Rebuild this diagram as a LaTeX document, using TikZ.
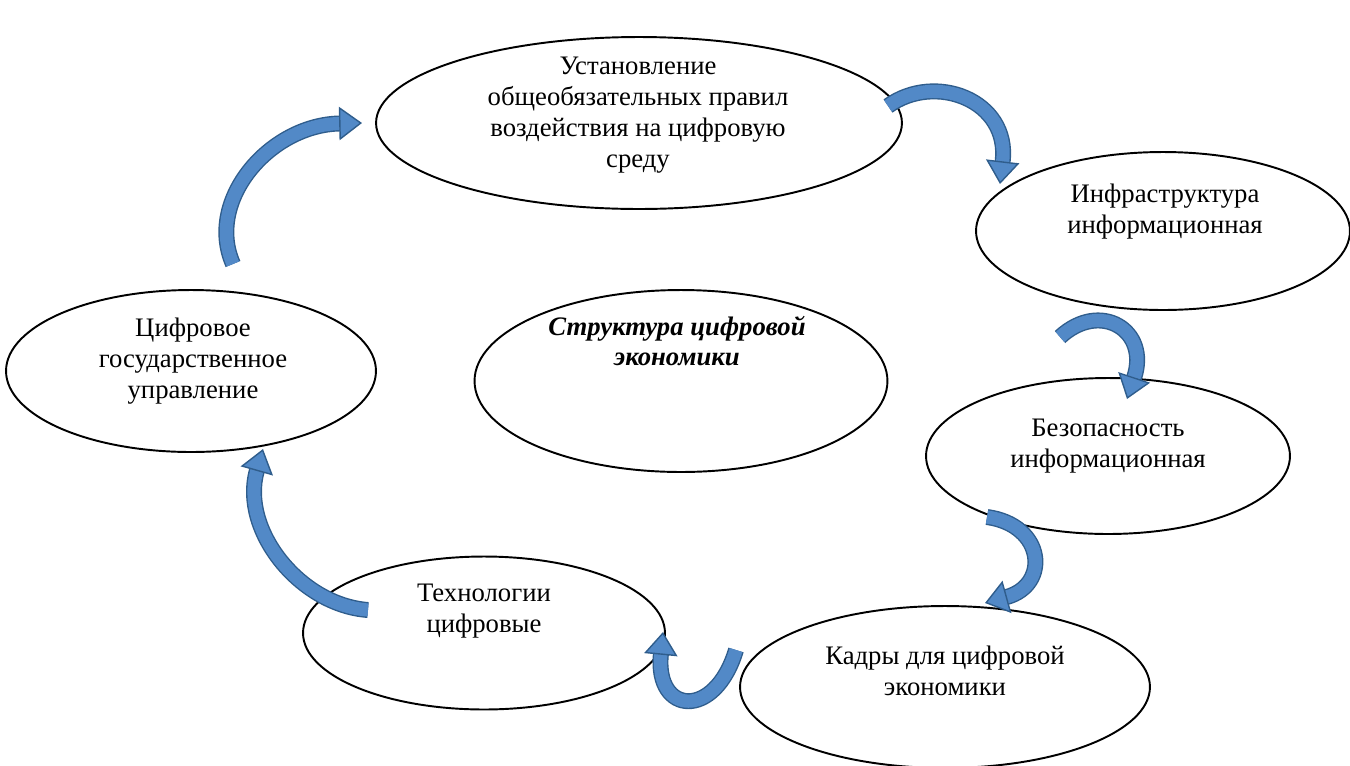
\documentclass[tikz,border=0pt]{standalone}
\usepackage{fontspec}
\setmainfont{Liberation Serif}
\usetikzlibrary{shapes.geometric, arrows.meta}
\definecolor{ribbonfill}{HTML}{5289C7}
\definecolor{ribbonline}{HTML}{2F5D8C}
\tikzset{
    bubble/.style={ellipse, draw=black, line width=1.1pt, inner sep=0pt, outer sep=0pt},
    caption/.style={align=center, font=\fontsize{15.2}{17.6}\selectfont},
    ribbon/.style={draw=ribbonline, line width=0.8pt, double=ribbonfill, double distance=7.5pt,
        -{Triangle[length=13pt, width=19pt, fill=ribbonfill, line width=0.8pt]}},
}

\begin{document}
\begin{tikzpicture}[x=0.02cm, y=-0.02cm]
    \useasboundingbox (0,0) rectangle (1350,765);
    % ellipses
    \node[bubble, minimum width=10.52cm, minimum height=3.44cm] (rules) at (639,123) {};
    \node[bubble, minimum width=7.48cm, minimum height=3.16cm] (infra) at (1163,231) {};
    \node[bubble, minimum width=7.28cm, minimum height=3.12cm] (security) at (1108,456) {};
    \node[bubble, minimum width=8.2cm, minimum height=3.24cm] (staff) at (945,687) {};
    \node[bubble, minimum width=7.24cm, minimum height=3.06cm] (tech) at (484,633) {};
    \node[bubble, minimum width=7.4cm, minimum height=3.24cm] (gov) at (191,371) {};
    \node[bubble, minimum width=8.26cm, minimum height=3.64cm] (core) at (681,381) {};
    % texts
    \node[caption] (rules-txt) at (638,115) {Установление\\общеобязательных правил\\воздействия на цифровую\\среду};
    \node[caption] (infra-txt) at (1165,212) {Инфраструктура\\информационная};
    \node[caption] (security-txt) at (1108,446) {Безопасность\\информационная};
    \node[caption] (staff-txt) at (945,671) {Кадры для цифровой\\экономики};
    \node[caption] (tech-txt) at (484,611) {Технологии\\цифровые};
    \node[caption] (gov-txt) at (193,361) {Цифровое\\государственное\\управление};
    \node[caption, font=\fontsize{15.2}{17.6}\selectfont\bfseries\itshape] (core-txt) at (677,341) {Структура цифровой\\экономики};
    % arrow ends
    \coordinate (gov-out) at (233,264);
    \coordinate (rules-in) at (362,123);
    \coordinate (rules-out) at (888,106);
    \coordinate (infra-in) at (1000,184);
    \coordinate (infra-out) at (1060,337);
    \coordinate (security-in) at (1127,399);
    \coordinate (security-out) at (987,517);
    \coordinate (staff-in) at (985,603);
    \coordinate (staff-out) at (736,650);
    \coordinate (tech-in) at (663,632);
    \coordinate (tech-out) at (368,610);
    \coordinate (gov-in) at (263,449);
    % curved arrows
    \draw[ribbon] (gov-out) .. controls (205,200) and (270,125) .. (rules-in);
    \draw[ribbon] (rules-out) .. controls (935,72) and (1010,100) .. (infra-in);
    \draw[ribbon] (infra-out) .. controls (1100,300) and (1150,330) .. (security-in);
    \draw[ribbon] (security-out) .. controls (1045,525) and (1050,585) .. (staff-in);
    \draw[ribbon] (staff-out) .. controls (715,720) and (655,715) .. (tech-in);
    \draw[ribbon] (tech-out) .. controls (300,605) and (240,530) .. (gov-in);
\end{tikzpicture}
\end{document}
